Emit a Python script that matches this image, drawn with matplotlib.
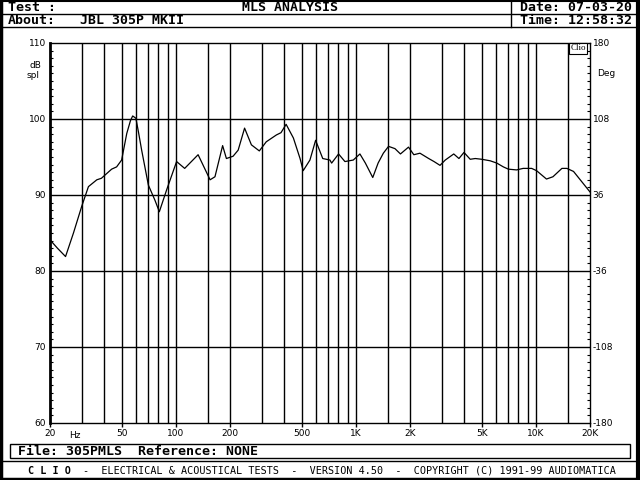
import matplotlib
matplotlib.use("Agg")
import matplotlib.pyplot as plt
from matplotlib.lines import Line2D
from matplotlib.patches import Rectangle

# =========================================================
# DATA
# =========================================================
freq = [20, 22, 24.4, 27, 30, 32.7, 36.4, 38.6, 44, 46.9, 50, 53.4,
        56, 57.6, 60, 62, 64.6, 70.4, 76.6, 81, 89, 101, 112, 133,
        155, 165, 182, 191, 208, 222, 241, 263, 291, 318,
        362, 384, 410, 450, 490, 510, 556, 598, 655, 718,
        734, 802, 870, 968, 1054, 1130, 1242, 1330, 1422, 1520,
        1650, 1770, 1962, 2100, 2272, 2540, 2720, 2936, 3140, 3500,
        3740, 3990, 4320, 4610, 5010, 5580, 6070, 6600, 7040, 7820,
        8500, 9480, 10100, 11460, 12450, 13960, 14880, 16200, 20000]
spl = [84.1, 83.0, 81.9, 85.0, 88.5, 91.1, 92.0, 92.2, 93.4, 93.7, 94.6, 98.1,
       99.8, 100.4, 100.1, 98.3, 95.9, 91.3, 89.3, 87.8, 90.7, 94.4, 93.5, 95.3,
       92.0, 92.4, 96.5, 94.8, 95.1, 95.9, 98.8, 96.6, 95.8, 97.0,
       97.9, 98.2, 99.3, 97.5, 94.8, 93.2, 94.6, 97.2, 94.8, 94.6,
       94.2, 95.4, 94.4, 94.6, 95.4, 94.2, 92.3, 94.2, 95.5, 96.4,
       96.1, 95.4, 96.3, 95.3, 95.5, 94.8, 94.4, 93.9, 94.6, 95.4,
       94.8, 95.6, 94.7, 94.8, 94.7, 94.5, 94.2, 93.7, 93.4, 93.3,
       93.5, 93.5, 93.2, 92.1, 92.4, 93.5, 93.5, 93.1, 90.4]

grid_freqs = [30, 40, 50, 60, 70, 80, 90, 100, 150, 200, 300, 400, 500, 600,
              700, 800, 900, 1000, 1500, 2000, 3000, 4000, 5000, 6000, 7000,
              8000, 9000, 10000, 15000]
xtick_vals = [20, 50, 100, 200, 500, 1000, 2000, 5000, 10000, 20000]
xtick_labels = ["20", "50", "100", "200", "500", "1K", "2K", "5K", "10K", "20K"]
db_ticks = [60, 70, 80, 90, 100, 110]
deg_labels = ["-180", "-108", "-36", "36", "108", "180"]

W, H = 640, 480


def fx(x):
    return x / W


def fy(y):
    return 1 - y / H


fig = plt.figure(figsize=(6.4, 4.8), dpi=100)
fig.patch.set_facecolor("white")

# =========================================================
# FRAME / HEADER
# =========================================================
def hline(y, x0, x1, lw=1.0):
    fig.add_artist(Line2D([fx(x0), fx(x1)], [fy(y), fy(y)], color="black", lw=lw))


def vline(x, y0, y1, lw=1.0):
    fig.add_artist(Line2D([fx(x), fx(x)], [fy(y0), fy(y1)], color="black", lw=lw))


hline(0.5, 0, 640, 1.5)
hline(478.5, 0, 640, 2.5)
vline(1, 0, 480, 2.5)
vline(637.5, 0, 480, 3)
hline(14, 0, 640)
hline(27, 0, 640)
hline(461, 0, 640)
vline(511, 0, 27)

fig.add_artist(Rectangle((fx(10), fy(458)), fx(630) - fx(10), fy(444) - fy(458),
                         fill=False, edgecolor="black", lw=1.0))

hdr = dict(family="DejaVu Sans Mono", fontweight="bold", fontsize=9.5, va="center")
fig.text(fx(8), fy(7.5), "Test :", **hdr)
fig.text(fx(290), fy(7.5), "MLS ANALYSIS", ha="center", **hdr)
fig.text(fx(8), fy(20.5), "About:", **hdr)
fig.text(fx(80), fy(20.5), "JBL 305P MKII", **hdr)
fig.text(fx(520), fy(7.5), "Date: 07-03-20", **hdr)
fig.text(fx(520), fy(20.5), "Time: 12:58:32", **hdr)
fig.text(fx(18), fy(451.5), "File: 305PMLS  Reference: NONE", **hdr)

# footer: bold "C L I O" then the rest, mono advance 0.602 em
foot_size = 7.3
char_w = 0.602 * foot_size * 100 / 72
fig.text(fx(28), fy(470.5), "C L I O", family="DejaVu Sans Mono", fontweight="bold",
         fontsize=foot_size, va="center")
fig.text(fx(28 + 9 * char_w), fy(470.5),
         "-  ELECTRICAL & ACOUSTICAL TESTS  -  VERSION 4.50  -  COPYRIGHT (C) 1991-99 AUDIOMATICA",
         family="DejaVu Sans Mono", fontsize=foot_size, va="center")

# =========================================================
# PLOT AREA
# =========================================================
ax = fig.add_axes([fx(50), fy(423), fx(590) - fx(50), fy(43) - fy(423)])
ax.set_xscale("log")
ax.set_xlim(20, 20000)
ax.set_ylim(60, 110)

for f in grid_freqs:
    ax.axvline(f, color="black", lw=1.0)
for d in [70, 80, 90, 100]:
    ax.axhline(d, color="black", lw=1.0)

ax.plot(freq, spl, color="black", lw=0.9)

for s in ax.spines.values():
    s.set_linewidth(1.0)
ax.spines["left"].set_linewidth(2.0)

ax.set_xticks(xtick_vals)
ax.set_xticklabels(xtick_labels)
ax.xaxis.set_minor_locator(matplotlib.ticker.NullLocator())
ax.tick_params(axis="x", direction="out", length=3, width=1, labelsize=6.5, pad=1.5)

ax.set_yticks(db_ticks)
ax.set_yticklabels([str(v) for v in db_ticks])
ax.set_yticks(range(60, 111), minor=True)
ax.tick_params(axis="y", which="major", direction="in", length=0, labelsize=6.5, pad=3)
ax.tick_params(axis="y", which="minor", direction="in", length=2.5, width=0.8,
               right=True)

ax2 = ax.twinx()
ax2.set_ylim(60, 110)
ax2.set_yticks(db_ticks)
ax2.set_yticklabels(deg_labels)
ax2.set_yticks(range(60, 111), minor=True)
ax2.tick_params(axis="y", which="major", direction="in", length=0, labelsize=6.5, pad=2)
ax2.tick_params(axis="y", which="minor", direction="in", length=2.5, width=0.8)
for s in ax2.spines.values():
    s.set_visible(False)

fig.text(fx(75), fy(436), "Hz", fontsize=6.5, ha="center", va="center")
fig.text(fx(30), fy(66), "dB", fontsize=6.5, va="center")
fig.text(fx(27), fy(76), "spl", fontsize=6.5, va="center")
fig.text(fx(597), fy(74), "Deg", fontsize=6.5, va="center")
fig.text(fx(578), fy(48.5), "Clio", family="Liberation Serif", fontsize=6.5,
         ha="center", va="center",
         bbox=dict(boxstyle="square,pad=0.15", fc="white", ec="black", lw=0.8))

fig.savefig("out.png", dpi=100)
